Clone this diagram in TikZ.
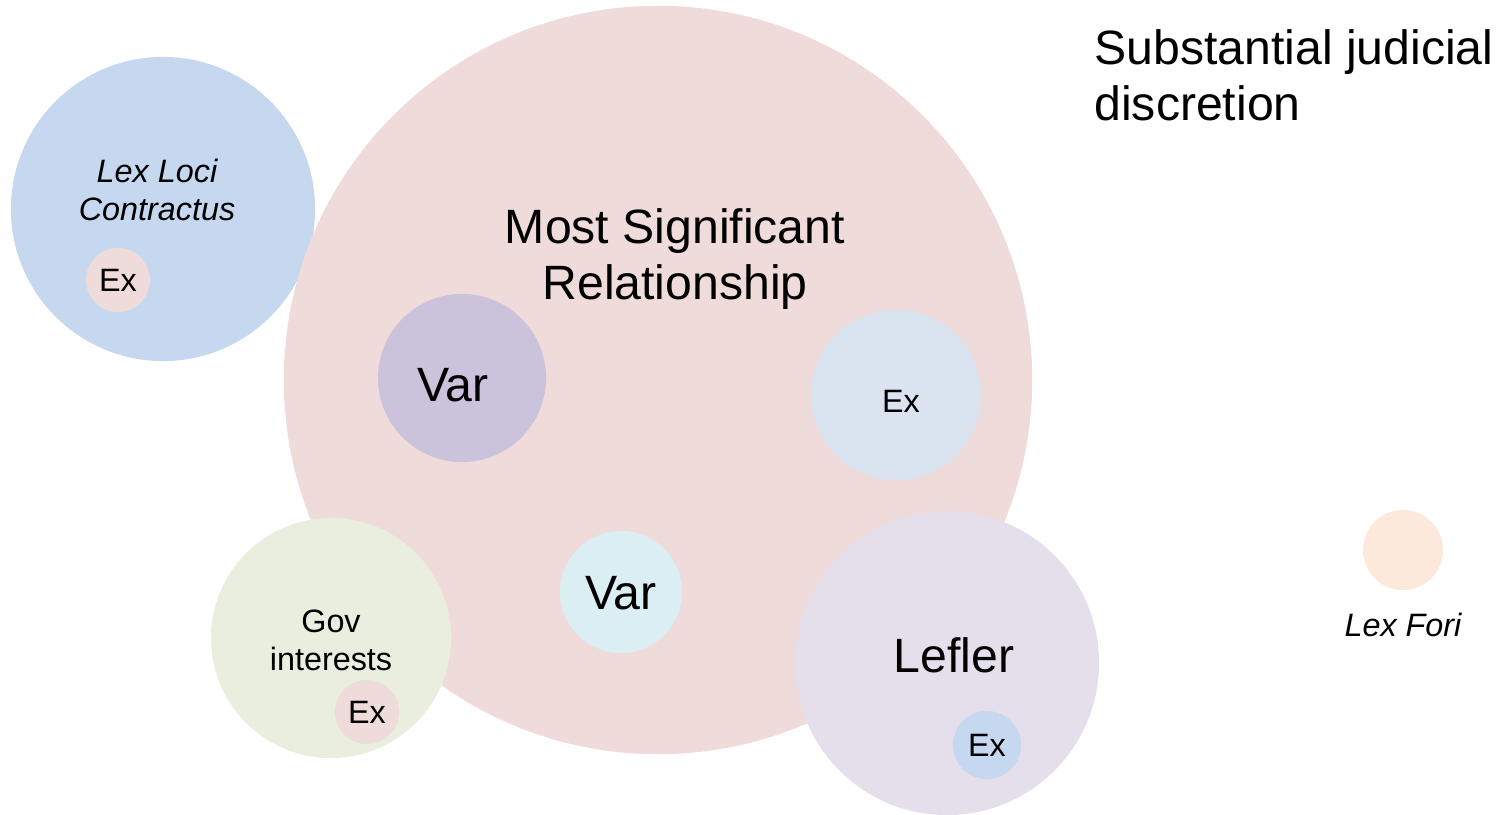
\documentclass[tikz,border=0pt]{standalone}
\usepackage{fontspec}
\setmainfont{Liberation Sans}
\usepackage{xcolor}
\usetikzlibrary{positioning}

\definecolor{blueA}{HTML}{C6D8EF}
\definecolor{pinkA}{HTML}{F0DBDB}
\definecolor{purpA}{HTML}{CBC2DC}
\definecolor{paleblue}{HTML}{DAE3F0}
\definecolor{cyanA}{HTML}{DBEEF3}
\definecolor{greenA}{HTML}{EAEEDF}
\definecolor{lavA}{HTML}{E5DFEC}
\definecolor{orangeA}{HTML}{FCE9DB}

\begin{document}
\begin{tikzpicture}[x=0.01cm,y=-0.01cm,
	blob/.style={circle, inner sep=0pt, draw=none},
	big/.style={font=\fontsize{13.7}{15.9}\selectfont, align=center},
	small/.style={font=\fontsize{9.2}{10.8}\selectfont, align=center}]
	\useasboundingbox (0,0) rectangle (1499,815);
	% circles, back to front
	\node[blob, fill=blueA, minimum size=3.04cm] (llc) at (163,209) {};
	\node[blob, fill=pinkA, minimum size=7.48cm] (msr) at (658,380) {};
	\node[blob, fill=pinkA, minimum size=0.64cm] (llcex) at (118,280) {};
	\node[blob, fill=purpA, minimum size=1.68cm] (var1) at (462,378) {};
	\node[blob, fill=paleblue, minimum size=1.7cm] (msrex) at (896,395) {};
	\node[blob, fill=cyanA, minimum size=1.22cm] (var2) at (621,592) {};
	\node[blob, fill=greenA, minimum size=2.4cm] (gov) at (331,638) {};
	\node[blob, fill=pinkA, minimum size=0.64cm] (govex) at (367,712) {};
	\node[blob, fill=lavA, minimum size=3.04cm] (lefler) at (947,663) {};
	\node[blob, fill=blueA, minimum size=0.68cm] (leflerex) at (987,745) {};
	\node[blob, fill=orangeA, minimum size=0.8cm] (fori) at (1403,550) {};
	% labels
	\node[small] (llctext) at (157,190) {\itshape Lex Loci\\\itshape Contractus};
	\node[small] at (llcex) {Ex};
	\node[big] (msrtext) at (675,259) {Most Significant\\Relationship};
	\node[big] at (453,385) {Var};
	\node[small] at (901,401) {Ex};
	\node[big] at (621,593) {Var};
	\node[small] (govtext) at (331,640) {Gov\\interests};
	\node[small] at (govex) {Ex};
	\node[big] (leflertext) at (954,655) {Lefler};
	\node[small] at (leflerex) {Ex};
	\node[small, below=0.1cm of fori] (foritext) {\itshape Lex Fori};
	\node[big, anchor=west, align=left] (discr) at (1082,75) {Substantial judicial\\discretion};
\end{tikzpicture}
\end{document}
